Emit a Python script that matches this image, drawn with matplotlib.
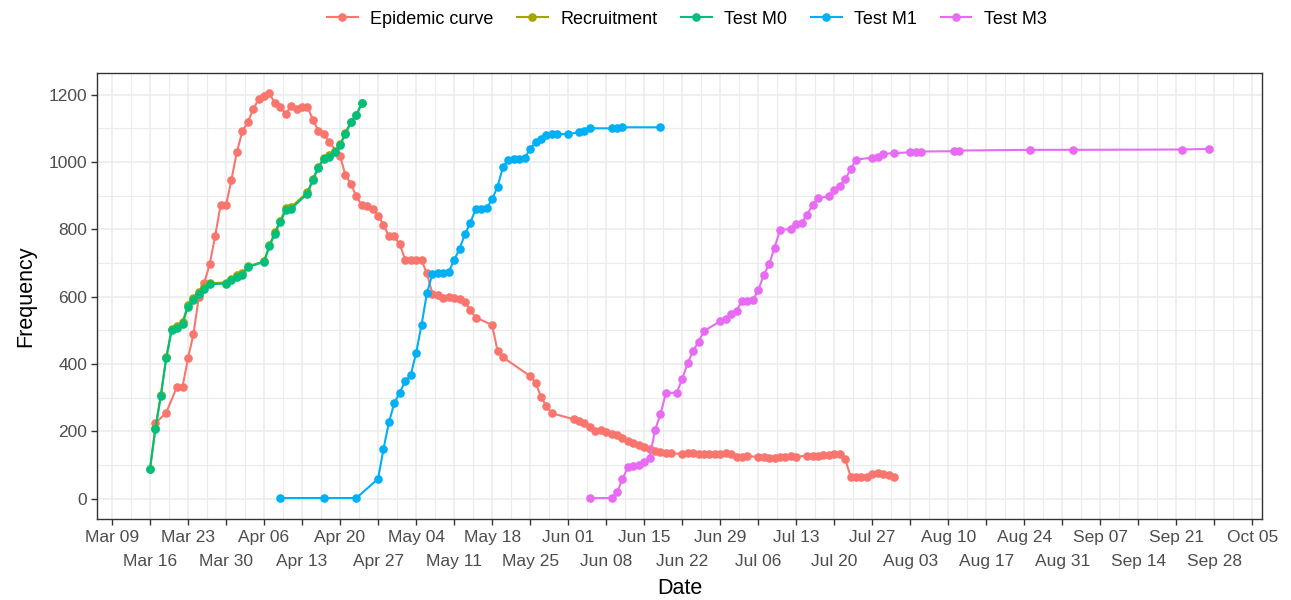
import matplotlib
matplotlib.use("Agg")
import matplotlib.pyplot as plt
import matplotlib.dates as mdates
import numpy as np

plt.rcParams['font.family'] = ['Liberation Sans', 'DejaVu Sans']

START = "2020-03-09"  # day 0 of the day offsets below

# Epidemic curve
epi_day = [8, 10, 12, 13, 14, 15, 16, 17, 18, 19, 20, 21, 22, 23, 24, 25, 26, 27, 28, 29,
           30, 31, 32, 33, 34, 35, 36, 37, 38, 39, 40, 42, 43, 44, 45, 46, 47, 48, 49, 50,
           51, 52, 53, 54, 55, 56, 57, 58, 59, 60, 61, 62, 63, 64, 65, 66, 67, 70, 71, 72,
           77, 78, 79, 80, 81, 85, 86, 87, 88, 89, 90, 91, 92, 93, 94, 95, 96, 97, 98, 99,
           100, 101, 102, 103, 105, 106, 107, 108, 109, 110, 111, 112, 113, 114, 115, 116, 117,
           119, 120, 121, 122, 123, 124, 125, 126, 128, 129, 130, 131, 132, 133, 134, 135,
           136, 137, 138, 139, 140, 141, 142, 143, 144]
epi_val = [224, 256, 333, 333, 417, 488, 599, 642, 696, 780, 871, 871, 947, 1029, 1091, 1118, 1156, 1187, 1195, 1204,
           1174, 1164, 1143, 1167, 1157, 1164, 1164, 1125, 1093, 1083, 1059, 1019, 960, 935, 898, 871, 868, 861, 841, 814,
           779, 779, 755, 710, 710, 708, 708, 669, 609, 604, 595, 599, 596, 592, 585, 560, 538, 516, 439, 420,
           364, 345, 303, 274, 254, 236, 232, 224, 212, 200, 203, 197, 192, 188, 180, 171, 165, 160, 155, 147,
           142, 140, 137, 135, 133, 137, 135, 133, 133, 133, 133, 133, 135, 133, 124, 124, 127,
           124, 124, 121, 121, 124, 125, 128, 125, 128, 128, 128, 130, 130, 133, 133, 118,
           66, 66, 66, 66, 74, 76, 74, 71, 66]

# Recruitment
rec_day = [7, 8, 9, 10, 11, 12, 13, 14, 15, 16, 17, 18, 21, 22, 23, 24, 25, 28, 29, 30,
           31, 32, 33, 36, 37, 38, 39, 40, 41, 42, 43, 44, 45, 46]
rec_val = [88, 210, 308, 420, 505, 512, 525, 575, 597, 615, 630, 640, 642, 652, 664, 670, 690, 705, 752, 792,
           826, 862, 866, 910, 950, 985, 1012, 1020, 1032, 1052, 1086, 1120, 1140, 1176]

# Test M0
m0_day = [7, 8, 9, 10, 11, 12, 13, 14, 15, 16, 17, 18, 21, 22, 23, 24, 25, 28, 29, 30,
          31, 32, 33, 36, 37, 38, 39, 40, 41, 42, 43, 44, 45, 46]
m0_val = [88, 207, 305, 417, 501, 506, 520, 570, 590, 609, 624, 637, 639, 649, 659, 664, 688, 703, 750, 787,
          822, 856, 861, 906, 947, 983, 1009, 1014, 1029, 1049, 1084, 1118, 1138, 1174]

# Test M1
m1_day = [31, 39, 45, 49, 50, 51, 52, 53, 54, 55, 56, 57, 58, 59, 60, 61, 62, 63, 64, 65,
          66, 67, 68, 69, 70, 71, 72, 73, 74, 75, 76, 77, 78, 79, 80, 81, 82, 84, 86, 87,
          88, 92, 93, 94, 101]
m1_val = [2, 2, 2, 59, 148, 227, 285, 315, 350, 367, 432, 516, 611, 667, 669, 671, 674, 708, 743, 785,
          820, 861, 861, 863, 889, 927, 985, 1007, 1009, 1009, 1011, 1039, 1059, 1069, 1080, 1083, 1083, 1083, 1088, 1091,
          1100, 1100, 1100, 1103, 1103]

# Test M3
m3_day = [88, 92, 93, 94, 95, 96, 97, 98, 99, 100, 101, 102, 104, 105, 106, 107, 108, 109, 112, 113,
          114, 115, 116, 117, 118, 119, 120, 121, 122, 123, 125, 126, 127, 128, 129, 130, 132, 133, 134, 135,
          136, 137, 140, 141, 142, 144, 147, 148, 149, 155, 156, 169, 177, 197, 202]
m3_val = [2, 2, 19, 58, 94, 98, 101, 108, 121, 204, 251, 314, 315, 356, 402, 439, 466, 498, 527, 533,
          550, 558, 587, 588, 590, 619, 664, 696, 746, 797, 802, 817, 819, 844, 873, 893, 898, 916, 930, 948,
          978, 1007, 1013, 1016, 1024, 1026, 1029, 1029, 1031, 1032, 1034, 1036, 1036, 1037, 1039]

series_names = ["Epidemic curve", "Recruitment", "Test M0", "Test M1", "Test M3"]
series_colors = ["#F8766D", "#A3A500", "#00BF7D", "#00B0F6", "#E76BF3"]
series_days = [epi_day, rec_day, m0_day, m1_day, m3_day]
series_vals = [epi_val, rec_val, m0_val, m1_val, m3_val]

base = np.datetime64(START)


def to_dates(days):
    return base + np.array(days, dtype="timedelta64[D]")


fig = plt.figure(figsize=(12.91, 6.00), dpi=100)
ax = fig.add_axes([97 / 1291, 1 - 519 / 600, (1262 - 97) / 1291, (519 - 73) / 600])

handles = []
for name, col, d, v in zip(series_names, series_colors, series_days, series_vals):
    h, = ax.plot(to_dates(d), v, "-o", color=col, lw=1.5, ms=6.2, mew=0, label=name, zorder=3)
    handles.append(h)

# x ticks weekly, labels alternate between two rows
week_ticks = base + np.arange(0, 211, 7).astype("timedelta64[D]")
tick_labels = [t.astype(object).strftime("%b %d") for t in week_ticks]
ax.set_xticks(mdates.date2num(week_ticks))
ax.set_xticklabels(tick_labels)
minor_x = base + np.timedelta64(84, "h") + np.arange(-7, 218, 7).astype("timedelta64[D]")
ax.set_xticks(mdates.date2num(minor_x), minor=True)

ax.set_yticks(np.arange(0, 1201, 200))
ax.set_yticks(np.arange(100, 1201, 200), minor=True)

# limits with ggplot-like 5% expansion (set after ticks so ticks don't widen them)
all_days = np.concatenate([np.array(d) for d in series_days])
all_vals = np.concatenate([np.array(v) for v in series_vals])
dmin, dmax = all_days.min(), all_days.max()
span = dmax - dmin
x0 = mdates.date2num(base) + (dmin - 0.05 * span)
x1 = mdates.date2num(base) + (dmax + 0.05 * span)
ax.set_xlim(x0, x1)
vmin, vmax = min(0, all_vals.min()), all_vals.max()
vspan = vmax - vmin
ax.set_ylim(vmin - 0.05 * vspan, vmax + 0.05 * vspan)

ax.grid(True, which="major", color="#EBEBEB", lw=1.1, zorder=0)
ax.grid(True, which="minor", color="#EBEBEB", lw=0.8, zorder=0)
ax.set_axisbelow(True)
for s in ax.spines.values():
    s.set_color("#333333")
    s.set_linewidth(1.0)
ax.tick_params(axis="both", which="major", length=4, width=1, color="#333333",
               labelcolor="#4D4D4D", labelsize=12.5)
ax.tick_params(axis="x", which="major", pad=4)
ax.tick_params(axis="y", which="major", pad=3)
ax.tick_params(axis="both", which="minor", length=0)
for i, tk in enumerate(ax.xaxis.get_major_ticks()):
    if i % 2 == 1:
        tk.set_pad(21.5)

ax.set_xlabel("Date", fontsize=15.5, labelpad=6)
ax.set_ylabel("Frequency", fontsize=15.5, labelpad=9)

fig.legend(handles=handles, labels=series_names, loc="center", bbox_to_anchor=(0.532, 0.968),
           ncol=5, frameon=False, fontsize=13, handlelength=1.7, handletextpad=0.7,
           columnspacing=1.3)

fig.savefig("out.png", dpi=100)
